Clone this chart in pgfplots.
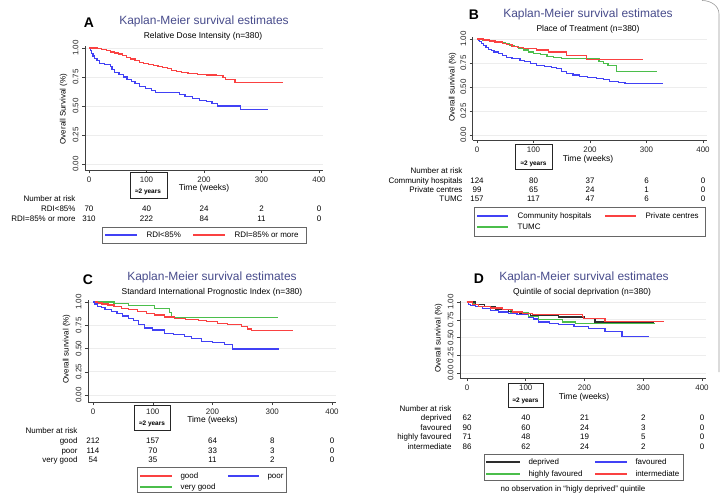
\documentclass[border=0pt]{standalone}
\usepackage{fontspec}
\setmainfont{Liberation Sans}
\usepackage{pgfplots}
\pgfplotsset{compat=1.18}
\definecolor{ttl}{RGB}{72,76,140}
\definecolor{kmblue}{RGB}{65,65,245}
\definecolor{kmred}{RGB}{250,65,65}
\definecolor{kmgreen}{RGB}{75,190,75}
\definecolor{kmblack}{RGB}{45,45,45}
\newcommand{\fs}[1]{\fontsize{#1}{#1}\selectfont}

\pgfplotsset{km/.style={
  scale only axis, anchor=south west, clip=false,
  axis x line*=bottom, axis y line*=left,
  axis line style={black!75,line width=0.6pt,-},
  xtick={0,100,200,300,400}, xmax=407,
  ytick={0,0.25,0.5,0.75,1}, yticklabels={0.00,0.25,0.50,0.75,1.00},
  ymax=1.02,
  tick align=outside, major tick length=3bp,
  tick style={black!75,line width=0.5pt},
  ymajorgrids, grid style={black!7,line width=0.7pt},
  ticklabel style={font=\fs{8}, text=black!85},
  yticklabel style={rotate=90, anchor=south},
  /pgf/number format/assume math mode=true,
  every axis plot/.append style={const plot, no marks, line width=1.2pt},
}}
\tikzset{txt/.style={every node/.append style={text height=1.4ex,text depth=0.4ex}}}

\begin{document}
\begin{tikzpicture}
\fill[white] (0,0) rectangle (721bp,-493bp);
\path[use as bounding box] (0,0) rectangle (721bp,-493bp);
\draw[black!40, line width=0.6pt] (702bp,-0.5bp) to[out=0,in=90] (719bp,-14bp) -- (719bp,-372bp);

% ---------------- A
\begin{axis}[km, at={(85bp,-170bp)}, width=238bp, height=124.4bp, xmin=-7, ymin=-0.052]
\addplot[kmblue] coordinates {(0,1)(2,0.98)(4,0.955)(7,0.93)(10,0.91)(14,0.89)(18,0.868)(27,0.858)(37,0.84)(40,0.815)(44,0.79)(52,0.77)(60,0.75)(66,0.73)(74,0.71)(80,0.69)(88,0.665)(98,0.652)(108,0.633)(116,0.613)(158,0.598)(167,0.578)(180,0.565)(192,0.548)(204,0.535)(214,0.518)(224,0.50)(263,0.466)(312,0.466)};
\addplot[kmred] coordinates {(0,1)(14,0.995)(22,0.985)(30,0.975)(38,0.965)(45,0.957)(51,0.948)(58,0.935)(65,0.92)(72,0.905)(80,0.89)(88,0.875)(95,0.866)(103,0.858)(112,0.85)(120,0.84)(128,0.83)(136,0.82)(144,0.808)(152,0.797)(161,0.785)(172,0.778)(188,0.772)(205,0.767)(222,0.762)(233,0.745)(238,0.725)(254,0.70)(338,0.70)};
\end{axis}
\begin{scope}[txt]
\node[font=\bfseries\fs{14}] at (89bp,-25bp) {A};
\node[font=\fs{12},text=ttl] at (204bp,-22bp) {Kaplan-Meier survival estimates};
\node[font=\fs{8.5}] at (203bp,-36bp) {Relative Dose Intensity (n=380)};
\node[rotate=90,font=\fs{8}] at (63bp,-109bp) {Overall Survival (\%)};
\node[font=\fs{8.5}] at (204bp,-188bp) {Time (weeks)};
\draw[line width=0.9pt, black!85] (130bp,-172bp) rectangle (167bp,-198bp);
\node[font=\bfseries\fs{6.5}] at (148bp,-191bp) {≈2 years};
\end{scope}
\begin{scope}[txt, every node/.append style={font=\fs{8}}]
\node[anchor=east] at (79bp,-199bp) {Number at risk};
\node[anchor=east] at (79bp,-209bp) {RDI<85\%};
\node[anchor=east] at (79bp,-219bp) {RDI=85\% or more};
\node at (89bp,-209bp) {70}; \node at (146.5bp,-209bp) {40}; \node at (204bp,-209bp) {24}; \node at (261.5bp,-209bp) {2}; \node at (319bp,-209bp) {0};
\node at (89bp,-219bp) {310}; \node at (146.5bp,-219bp) {222}; \node at (204bp,-219bp) {84}; \node at (261.5bp,-219bp) {11}; \node at (319bp,-219bp) {0};
\draw[black!60,line width=0.6pt] (102bp,-227bp) rectangle (306bp,-243bp);
\draw[kmblue,line width=1.2pt] (105bp,-235bp) -- (137bp,-235bp);
\node[anchor=west] at (143bp,-235bp) {RDI<85\%};
\draw[kmred,line width=1.2pt] (193bp,-235bp) -- (225bp,-235bp);
\node[anchor=west] at (231bp,-235bp) {RDI=85\% or more};
\end{scope}

% ---------------- B
\begin{axis}[km, at={(472.7bp,-140bp)}, width=234.25bp, height=102.9bp, xmin=-7.6, ymin=-0.052]
\addplot[kmblue] coordinates {(0,1)(2,0.985)(5,0.97)(8,0.95)(11,0.935)(16,0.915)(21,0.895)(26,0.88)(30,0.865)(38,0.85)(45,0.83)(52,0.81)(62,0.795)(76,0.78)(84,0.765)(95,0.745)(106,0.725)(120,0.71)(132,0.70)(141,0.69)(150,0.665)(159,0.64)(170,0.625)(182,0.61)(196,0.60)(212,0.59)(224,0.575)(235,0.56)(250,0.55)(262,0.535)(329,0.535)};
\addplot[kmgreen] coordinates {(0,1)(10,0.99)(20,0.982)(30,0.975)(40,0.965)(50,0.95)(58,0.935)(66,0.92)(74,0.905)(82,0.885)(91,0.865)(100,0.85)(112,0.835)(124,0.82)(135,0.81)(150,0.80)(165,0.795)(216,0.77)(224,0.745)(232,0.725)(247,0.665)(318,0.665)};
\addplot[kmred] coordinates {(0,1)(12,0.99)(22,0.98)(32,0.968)(45,0.955)(52,0.94)(62,0.925)(72,0.912)(82,0.90)(105,0.885)(126,0.865)(159,0.83)(194,0.79)(294,0.79)};
\end{axis}
\begin{scope}[txt]
\node[font=\bfseries\fs{14}] at (474bp,-17bp) {B};
\node[font=\fs{12},text=ttl] at (588bp,-15bp) {Kaplan-Meier survival estimates};
\node[font=\fs{8.5}] at (588bp,-29bp) {Place of Treatment (n=380)};
\node[rotate=90,font=\fs{8}] at (452bp,-87bp) {Overall survival (\%)};
\node[font=\fs{8.5}] at (588bp,-159bp) {Time (weeks)};
\draw[line width=0.9pt, black!85] (515bp,-144bp) rectangle (552bp,-169bp);
\node[font=\bfseries\fs{6.5}] at (533.5bp,-162.5bp) {≈2 years};
\end{scope}
\begin{scope}[txt, every node/.append style={font=\fs{8}}]
\node[anchor=east] at (466bp,-171bp) {Number at risk};
\node[anchor=east] at (466bp,-181bp) {Community hospitals};
\node[anchor=east] at (466bp,-190bp) {Private centres};
\node[anchor=east] at (466bp,-199bp) {TUMC};
\node at (477bp,-181bp) {124}; \node at (533.5bp,-181bp) {80}; \node at (590bp,-181bp) {37}; \node at (646.5bp,-181bp) {6}; \node at (703bp,-181bp) {0};
\node at (477bp,-190bp) {99}; \node at (533.5bp,-190bp) {65}; \node at (590bp,-190bp) {24}; \node at (646.5bp,-190bp) {1}; \node at (703bp,-190bp) {0};
\node at (477bp,-199bp) {157}; \node at (533.5bp,-199bp) {117}; \node at (590bp,-199bp) {47}; \node at (646.5bp,-199bp) {6}; \node at (703bp,-199bp) {0};
\draw[black!60,line width=0.6pt] (474bp,-207bp) rectangle (705bp,-236bp);
\draw[kmblue,line width=1.2pt] (477bp,-216bp) -- (508bp,-216bp);
\node[anchor=west] at (514bp,-216bp) {Community hospitals};
\draw[kmred,line width=1.2pt] (605bp,-216bp) -- (636bp,-216bp);
\node[anchor=west] at (642bp,-216bp) {Private centres};
\draw[kmgreen,line width=1.2pt] (477bp,-227bp) -- (508bp,-227bp);
\node[anchor=west] at (514bp,-227bp) {TUMC};
\end{scope}

% ---------------- C
\begin{axis}[km, at={(88bp,-402bp)}, width=248.2bp, height=101.8bp, xmin=-8.4, ymin=-0.075]
\addplot[kmgreen] coordinates {(0,1)(35,0.985)(59,0.96)(103,0.93)(128,0.885)(131,0.835)(310,0.835)};
\addplot[kmred] coordinates {(0,1)(8,0.99)(15,0.98)(25,0.968)(35,0.955)(47,0.935)(60,0.92)(75,0.90)(90,0.88)(103,0.86)(120,0.84)(137,0.825)(155,0.815)(176,0.805)(190,0.79)(209,0.77)(225,0.755)(248,0.735)(258,0.71)(265,0.69)(335,0.69)};
\addplot[kmblue] coordinates {(0,1)(3,0.98)(8,0.955)(14,0.94)(20,0.92)(31,0.90)(40,0.875)(50,0.85)(59,0.825)(68,0.80)(76,0.76)(86,0.72)(100,0.70)(120,0.665)(135,0.65)(153,0.63)(165,0.605)(181,0.58)(200,0.565)(220,0.545)(234,0.495)(312,0.495)};
\end{axis}
\begin{scope}[txt]
\node[font=\bfseries\fs{14}] at (88bp,-282bp) {C};
\node[font=\fs{12},text=ttl] at (212bp,-278bp) {Kaplan-Meier survival estimates};
\node[font=\fs{8.5}] at (212bp,-292bp) {Standard International Prognostic Index (n=380)};
\node[rotate=90,font=\fs{8}] at (66bp,-349bp) {Overall survival (\%)};
\node[font=\fs{8.5}] at (212.5bp,-420bp) {Time (weeks)};
\draw[line width=0.9pt, black!85] (134bp,-405bp) rectangle (170bp,-430bp);
\node[font=\bfseries\fs{6.5}] at (152bp,-423bp) {≈2 years};
\end{scope}
\begin{scope}[txt, every node/.append style={font=\fs{8}}]
\node[anchor=east] at (81bp,-431bp) {Number at risk};
\node[anchor=east] at (81bp,-441bp) {good};
\node[anchor=east] at (81bp,-450.5bp) {poor};
\node[anchor=east] at (81bp,-460bp) {very good};
\node at (93bp,-441bp) {212}; \node at (152.75bp,-441bp) {157}; \node at (212.5bp,-441bp) {64}; \node at (272.25bp,-441bp) {8}; \node at (332bp,-441bp) {0};
\node at (93bp,-450.5bp) {114}; \node at (152.75bp,-450.5bp) {70}; \node at (212.5bp,-450.5bp) {33}; \node at (272.25bp,-450.5bp) {3}; \node at (332bp,-450.5bp) {0};
\node at (93bp,-460bp) {54}; \node at (152.75bp,-460bp) {35}; \node at (212.5bp,-460bp) {11}; \node at (272.25bp,-460bp) {2}; \node at (332bp,-460bp) {0};
\draw[black!60,line width=0.6pt] (137bp,-467bp) rectangle (286bp,-492.5bp);
\draw[kmred,line width=1.2pt] (140bp,-476bp) -- (172bp,-476bp);
\node[anchor=west] at (177bp,-476bp) {good};
\draw[kmblue,line width=1.2pt] (228bp,-476bp) -- (259bp,-476bp);
\node[anchor=west] at (264bp,-476bp) {poor};
\draw[kmgreen,line width=1.2pt] (140bp,-487bp) -- (172bp,-487bp);
\node[anchor=west] at (177bp,-487bp) {very good};
\end{scope}

% ---------------- D
\begin{axis}[km, at={(460bp,-378bp)}, width=246.1bp, height=77.4bp, xmin=-11.9, ymin=-0.07]
\addplot[kmblue] coordinates {(0,1)(2,0.97)(6,0.955)(15,0.935)(26,0.905)(40,0.885)(54,0.86)(70,0.84)(85,0.82)(105,0.79)(113,0.76)(122,0.72)(140,0.70)(156,0.685)(182,0.66)(207,0.625)(235,0.585)(264,0.52)(309,0.52)};
\addplot[kmgreen] coordinates {(0,1)(12,0.97)(30,0.935)(48,0.89)(75,0.85)(105,0.80)(122,0.75)(162,0.72)(185,0.695)(320,0.695)};
\addplot[kmblack] coordinates {(0,1)(15,0.97)(30,0.94)(48,0.90)(70,0.87)(90,0.84)(108,0.81)(156,0.79)(200,0.77)(218,0.72)(250,0.71)(318,0.71)};
\addplot[kmred] coordinates {(0,1)(10,0.97)(20,0.94)(40,0.915)(60,0.89)(77,0.86)(95,0.835)(111,0.82)(196,0.80)(198,0.765)(235,0.73)(336,0.73)};
\end{axis}
\begin{scope}[txt]
\node[font=\bfseries\fs{14}] at (479bp,-281bp) {D};
\node[font=\fs{12},text=ttl] at (584bp,-278bp) {Kaplan-Meier survival estimates};
\node[font=\fs{8.5}] at (582bp,-292bp) {Quintile of social deprivation (n=380)};
\node[rotate=90,font=\fs{8}] at (438bp,-338bp) {Overall survival (\%)};
\node[font=\fs{8.5}] at (584bp,-397bp) {Time (weeks)};
\draw[line width=0.9pt, black!85] (508bp,-383bp) rectangle (543bp,-407bp);
\node[font=\bfseries\fs{6.5}] at (525.5bp,-400bp) {≈2 years};
\end{scope}
\begin{scope}[txt, every node/.append style={font=\fs{8}}]
\node[anchor=east] at (455bp,-409bp) {Number at risk};
\node[anchor=east] at (455bp,-418bp) {deprived};
\node[anchor=east] at (455bp,-427.5bp) {favoured};
\node[anchor=east] at (455bp,-437bp) {highly favoured};
\node[anchor=east] at (455bp,-446.5bp) {intermediate};
\node at (467bp,-418bp) {62}; \node at (525.75bp,-418bp) {40}; \node at (584.5bp,-418bp) {21}; \node at (643.25bp,-418bp) {2}; \node at (702bp,-418bp) {0};
\node at (467bp,-427.5bp) {90}; \node at (525.75bp,-427.5bp) {60}; \node at (584.5bp,-427.5bp) {24}; \node at (643.25bp,-427.5bp) {3}; \node at (702bp,-427.5bp) {0};
\node at (467bp,-437bp) {71}; \node at (525.75bp,-437bp) {48}; \node at (584.5bp,-437bp) {19}; \node at (643.25bp,-437bp) {5}; \node at (702bp,-437bp) {0};
\node at (467bp,-446.5bp) {86}; \node at (525.75bp,-446.5bp) {62}; \node at (584.5bp,-446.5bp) {24}; \node at (643.25bp,-446.5bp) {2}; \node at (702bp,-446.5bp) {0};
\draw[black!60,line width=0.6pt] (484bp,-454bp) rectangle (683bp,-480bp);
\draw[kmblack,line width=1.2pt] (486bp,-462bp) -- (520bp,-462bp);
\node[anchor=west] at (525bp,-462bp) {deprived};
\draw[kmblue,line width=1.2pt] (595bp,-462bp) -- (627bp,-462bp);
\node[anchor=west] at (632bp,-462bp) {favoured};
\draw[kmgreen,line width=1.2pt] (486bp,-474bp) -- (520bp,-474bp);
\node[anchor=west] at (525bp,-474bp) {highly favoured};
\draw[kmred,line width=1.2pt] (595bp,-474bp) -- (627bp,-474bp);
\node[anchor=west] at (632bp,-474bp) {intermediate};
\node at (573bp,-489bp) {no observation in ``higly deprived'' quintile};
\end{scope}
\end{tikzpicture}
\end{document}
